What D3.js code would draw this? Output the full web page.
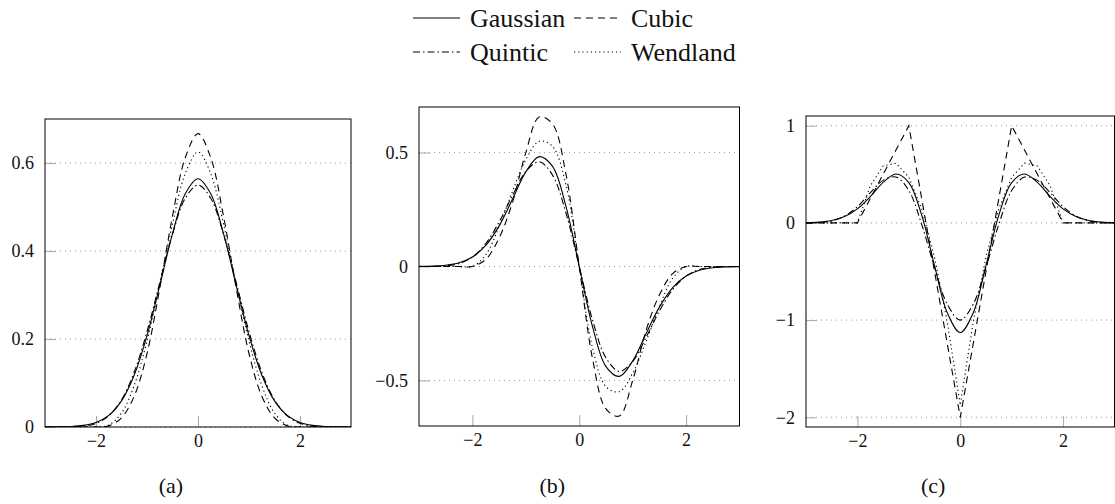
<!DOCTYPE html>
<html>
<head>
<meta charset="utf-8">
<script src="https://cdn.jsdelivr.net/npm/d3@7"></script>
<style>
  body { margin: 0; background: #fff; }
  svg { font-family: "Liberation Serif", "DejaVu Serif", serif; }
</style>
</head>
<body>
<div id="chart"></div>
<script>
// Data =========================

let xs = [-3, -2.75, -2.5, -2.25, -2, -1.75, -1.5, -1.25, -1, -0.75, -0.5, -0.25, 0,
  0.25, 0.5, 0.75, 1, 1.25, 1.5, 1.75, 2, 2.25, 2.5, 2.75, 3];

let kernels = ["Gaussian", "Cubic", "Quintic", "Wendland"];

// (a) kernel values
let gaussW = [0.0001, 0.0003, 0.0011, 0.0036, 0.0103, 0.0264, 0.0595, 0.1183, 0.2076, 0.3215, 0.4394, 0.5300, 0.5642,
  0.5300, 0.4394, 0.3215, 0.2076, 0.1183, 0.0595, 0.0264, 0.0103, 0.0036, 0.0011, 0.0003, 0.0001];
let cubicW = [0, 0, 0, 0, 0, 0.0026, 0.0208, 0.0703, 0.1667, 0.3151, 0.4792, 0.6120, 0.6667,
  0.6120, 0.4792, 0.3151, 0.1667, 0.0703, 0.0208, 0.0026, 0, 0, 0, 0, 0];
let quinticW = [0, 0.0000, 0.0003, 0.0020, 0.0083, 0.0254, 0.0617, 0.1249, 0.2167, 0.3281, 0.4380, 0.5197, 0.5500,
  0.5197, 0.4380, 0.3281, 0.2167, 0.1249, 0.0617, 0.0254, 0.0083, 0.0020, 0.0003, 0.0000, 0];
let wendlandW = [0, 0, 0, 0, 0, 0.0044, 0.0317, 0.0948, 0.1953, 0.3243, 0.4614, 0.5757, 0.6250,
  0.5757, 0.4614, 0.3243, 0.1953, 0.0948, 0.0317, 0.0044, 0, 0, 0, 0, 0];

// (b) first derivative
let gaussD1 = [0.0004, 0.0016, 0.0054, 0.0161, 0.0413, 0.0924, 0.1784, 0.2956, 0.4151, 0.4822, 0.4394, 0.2650, 0,
  -0.2650, -0.4394, -0.4822, -0.4151, -0.2956, -0.1784, -0.0924, -0.0413, -0.0161, -0.0054, -0.0016, -0.0004];
let cubicD1 = [0, 0, 0, 0, 0, 0.0313, 0.1250, 0.2813, 0.5000, 0.6563, 0.6250, 0.4063, 0,
  -0.4063, -0.6250, -0.6563, -0.5000, -0.2813, -0.1250, -0.0313, 0, 0, 0, 0, 0];
let quinticD1 = [0, 0.0002, 0.0026, 0.0132, 0.0417, 0.1007, 0.1953, 0.3117, 0.4167, 0.4600, 0.4010, 0.2360, 0,
  -0.2360, -0.4010, -0.4600, -0.4167, -0.3117, -0.1953, -0.1007, -0.0417, -0.0132, -0.0026, -0.0002, 0];
let wendlandD1 = [0, 0, 0, 0, 0, 0.0513, 0.1758, 0.3296, 0.4688, 0.5493, 0.5273, 0.3589, 0,
  -0.3589, -0.5273, -0.5493, -0.4688, -0.3296, -0.1758, -0.0513, 0, 0, 0, 0, 0];

// (c) second derivative
let gaussD2 = [0.0024, 0.0083, 0.0250, 0.0652, 0.1445, 0.2705, 0.4163, 0.5026, 0.4151, 0.0804, -0.4394, -0.9275, -1.1284,
  -0.9275, -0.4394, 0.0804, 0.4151, 0.5026, 0.4163, 0.2705, 0.1445, 0.0652, 0.0250, 0.0083, 0.0024];
let cubicD2 = [0, 0, 0, 0, 0, 0.25, 0.5, 0.75, 1, 0.25, -0.5, -1.25, -2,
  -1.25, -0.5, 0.25, 1, 0.75, 0.5, 0.25, 0, 0, 0, 0, 0];
let quinticD2 = [0, 0.0026, 0.0208, 0.0703, 0.1667, 0.3099, 0.4375, 0.4714, 0.3333, -0.0156, -0.4583, -0.8385, -1.0000,
  -0.8385, -0.4583, -0.0156, 0.3333, 0.4714, 0.4375, 0.3099, 0.1667, 0.0703, 0.0208, 0.0026, 0];
let wendlandD2 = [0, 0, 0, 0, 0, 0.3809, 0.5859, 0.6152, 0.4688, 0.1465, -0.3516, -1.0254, -1.8750,
  -1.0254, -0.3516, 0.1465, 0.4688, 0.6152, 0.5859, 0.3809, 0, 0, 0, 0, 0];

let xTicks = [-2, 0, 2];
let yTicksA = [0, 0.2, 0.4, 0.6];
let yTicksB = [-0.5, 0, 0.5];
let yTicksC = [-2, -1, 0, 1];
let captions = ["(a)", "(b)", "(c)"];

// Layout =========================

let svgWidth = 1115;
let svgHeight = 504;

let dashes = { Gaussian: null, Cubic: "7,5", Quintic: "7,3,1.5,3", Wendland: "1.2,3" };

let panels = [
  { box: [45, 351, 119, 427], yDomain: [0, 0.7], yTicks: yTicksA,
    series: [gaussW, cubicW, quinticW, wendlandW], sharp: [] },
  { box: [419, 739.5, 107, 426], yDomain: [-0.7, 0.7], yTicks: yTicksB,
    series: [gaussD1, cubicD1, quinticD1, wendlandD1], sharp: [] },
  { box: [806, 1114.5, 116, 427], yDomain: [-2.1, 1.1], yTicks: yTicksC,
    series: [gaussD2, cubicD2, quinticD2, wendlandD2], sharp: ["Cubic", "Wendland"] }
];

let fmt = d => (d < 0 ? "\u2212" : "") + Math.abs(d);

let styleAxis = a => {
  a.attr("font-family", "'Liberation Serif', serif").attr("font-size", 18);
  a.select(".domain").remove();
  a.selectAll(".tick line").attr("stroke", "#a8a8a8");
  a.selectAll(".tick text").attr("fill", "#111");
};

let svg = d3.select("#chart").append("svg").attr("width", svgWidth).attr("height", svgHeight);

// Panels =========================

panels.forEach((p, i) => {
  let [left, right, top, bottom] = p.box;
  let x = d3.scaleLinear().domain([-3, 3]).range([left, right]);
  let y = d3.scaleLinear().domain(p.yDomain).range([bottom, top]);
  let g = svg.append("g");

  svg.append("clipPath").attr("id", `clip${i}`)
    .append("rect")
    .attr("x", left).attr("y", top)
    .attr("width", right - left).attr("height", bottom - top);

  // grid
  g.selectAll(".grid")
    .data(p.yTicks)
    .enter()
    .append("line")
    .attr("x1", left).attr("x2", right)
    .attr("y1", d => y(d)).attr("y2", d => y(d))
    .attr("stroke", "#999")
    .attr("stroke-dasharray", "1,4");

  // axes
  g.append("g")
    .attr("transform", `translate(0, ${bottom})`)
    .call(d3.axisBottom(x).tickValues(xTicks).tickSize(-11).tickPadding(7).tickFormat(fmt))
    .call(styleAxis);

  g.append("g")
    .attr("transform", `translate(${left}, 0)`)
    .call(d3.axisLeft(y).tickValues(p.yTicks).tickSize(-11).tickPadding(11).tickFormat(fmt))
    .call(styleAxis);

  // curves
  let curves = g.append("g").attr("clip-path", `url(#clip${i})`);
  kernels.forEach((k, j) => {
    let line = d3.line()
      .x((d, n) => x(xs[n]))
      .y(d => y(d))
      .curve(p.sharp.includes(k) ? d3.curveLinear : d3.curveCatmullRom);
    curves.append("path")
      .datum(p.series[j])
      .attr("d", line)
      .attr("fill", "none")
      .attr("stroke", "#000")
      .attr("stroke-width", 1.1)
      .attr("stroke-dasharray", dashes[k]);
  });

  // frame
  g.append("rect")
    .attr("x", left).attr("y", top)
    .attr("width", right - left).attr("height", bottom - top)
    .attr("fill", "none")
    .attr("stroke", "#000")
    .attr("stroke-width", 1);

  g.append("text")
    .attr("x", (left + right) / 2 - 27)
    .attr("y", 493)
    .attr("text-anchor", "middle")
    .attr("font-size", 22)
    .attr("fill", "#111")
    .text(captions[i]);
});

// Legend =========================

let legendCols = [413, 574];
let legendRows = [18, 52];
let legend = svg.append("g");

kernels.forEach((k, j) => {
  let lx = legendCols[j % 2];
  let ly = legendRows[Math.floor(j / 2)];
  legend.append("line")
    .attr("x1", lx).attr("x2", lx + 47)
    .attr("y1", ly).attr("y2", ly)
    .attr("stroke", "#000")
    .attr("stroke-width", 1.1)
    .attr("stroke-dasharray", dashes[k]);
  legend.append("text")
    .attr("x", lx + 57)
    .attr("y", ly)
    .attr("dy", "0.33em")
    .attr("font-size", 26)
    .attr("fill", "#111")
    .text(k);
});
</script>
</body>
</html>
